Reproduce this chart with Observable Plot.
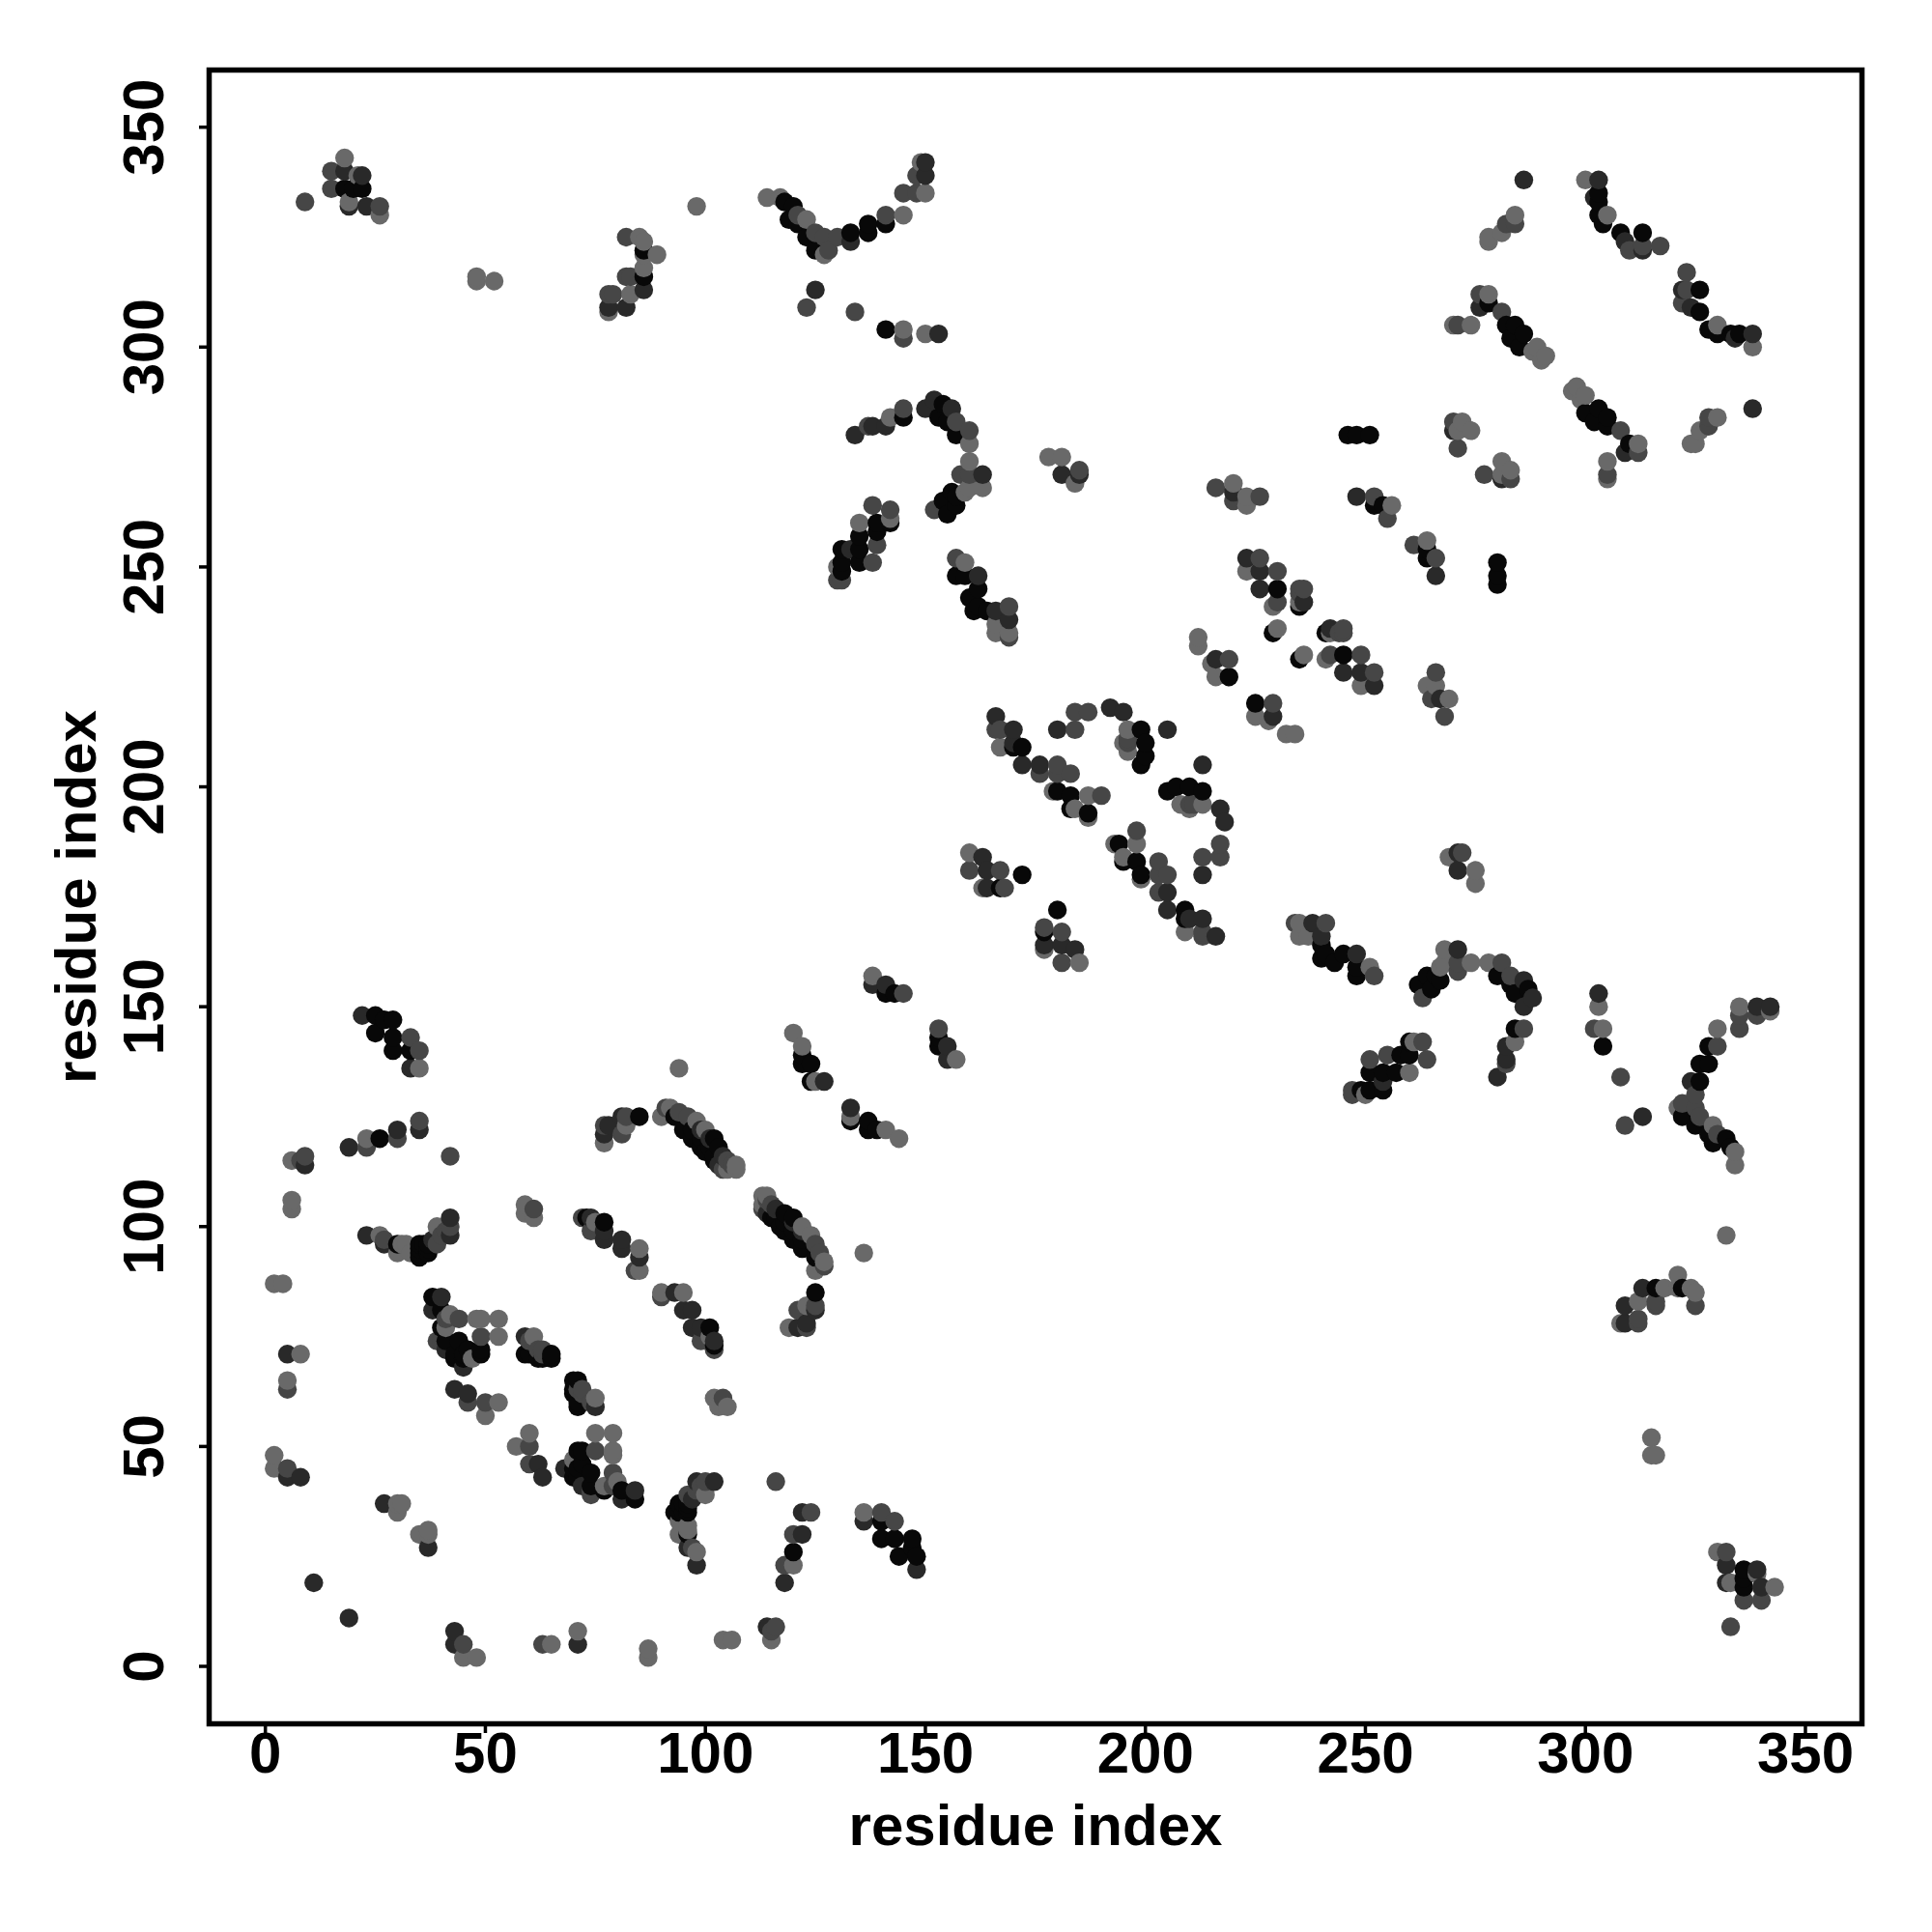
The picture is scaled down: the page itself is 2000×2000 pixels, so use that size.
<!DOCTYPE html>
<html><head><meta charset="utf-8">
<style>html,body{margin:0;padding:0;background:#fff}svg{display:block}</style>
<script src="https://cdn.jsdelivr.net/npm/d3@7"></script>
<script src="https://cdn.jsdelivr.net/npm/@observablehq/plot@0.6"></script>
</head><body><div id="chart"></div>
<script>
// contacts as [residue i, residue j, score], i < j; the map is symmetric
const tickValues = [0, 50, 100, 150, 200, 250, 300, 350];
const axisTitle = "residue index";
const farEnds = [[11,19,.65],[27,37,.65],[30,37,.1],[31,37,.1],[30,35,.1],[2,48,.1],[2,45,.1],[5,45,.4],[5,43,.65],[8,43,.65],[5,63,.4],[5,65,.1],[5,71,.65],[8,71,.1],[2,87,.1],[4,87,.1],[6,104,.1],[6,106,.1],[6,115,.1],[8,115,.4],[9,116,.4],[9,114,.65]];
const helixA = [[38,84,.93],[40,84,.65],[38,81,.65],[40,81,.93],[40,77,.93],[41,77,.1],[42,80,.1],[41,79,.4],[44,79,.4],[48,79,.1],[49,79,.1],[53,79,.1],[53,75,.1],[49,75,.4],[49,72,.93],[49,71,.93],[39,74,.4],[40,74,.4],[41,74,.93],[44,74,.93],[41,72,.65],[43,71,.93],[46,72,.93],[45,71,.93],[43,70,.93],[45,70,.93],[45,68,.65],[47,70,.1]];
const helixB = [[59,75,.65],[61,75,.1],[60,74,.4],[59,71,.93],[60,71,.93],[62,72,.4],[63,72,.4],[63,71,.4],[62,70,.93],[63,70,.93],[65,71,.93],[65,70,.93]];
const helixC = [[43,63,.65],[46,62,.65],[46,60,.4],[50,60,.4],[53,60,.1],[50,57,.1]];
const bandD = [[23,98,.65],[26,98,.1],[27,97,.4],[27,96,.65],[30,96,.93],[31,96,.1],[33,94,.1],[30,94,.1],[32,96,.1],[35,96,.93],[35,95,.93],[35,93,.93],[35,94,.93],[36,96,.93],[37,95,.93],[37,96,.93],[37,94,.93],[38,97,.65],[39,96,.4],[39,100,.1],[40,98,.4],[41,99,.4],[42,102,.65],[42,100,.4],[42,98,.65]];
const bandE = [[19,118,.65],[23,120,.1],[23,118,.4],[26,120,.93],[30,122,.65],[30,120,.4],[35,124,.4],[35,122,.65],[42,116,.4]];
const bandF = [[33,136,.65],[35,136,.1],[35,140,.4],[33,140,.93],[33,143,.4],[29,140,.93],[29,143,.93],[25,144,.93],[29,147,.93],[27,147,.93],[25,148,.93],[22,148,.65]];
const blockG = [[59,105,.1],[59,103,.1],[61,104,.4],[61,102,.1],[72,102,.4],[73,102,.93],[74,102,.65],[75,101,.1],[74,99,.4],[77,101,.93],[77,99,.65],[77,97,.65],[81,97,.65],[81,95,.65],[85,95,.1],[85,93,.65],[85,90,.1],[84,90,.4]];
const blockH = [[77,123,.4],[77,121,.65],[77,119,.1],[78,123,.65],[81,125,.65],[82,125,.4],[81,121,.4],[82,123,.1],[85,125,.93]];
const strandUpper = [[92,127,.1],[94,126,.4],[96,125,.4],[98,124,.1],[99,122,.65],[100,122,.1],[101,120,.65],[102,120,.93],[103,118,.93],[104,116,.65],[105,115,.4],[106,114,.4],[107,114,.1],[107,113,.1]];
const strandLower = [[90,125,.1],[91,127,.4],[93,125,.93],[95,122,.93],[97,122,.93],[97,120,.93],[99,120,.93],[99,118,.93],[101,118,.93],[100,117,.93],[102,116,.93],[102,115,.93],[103,114,.65],[104,113,.4],[105,113,.1]];
const midPairs = [[94,136,.1],[120,144,.1],[122,141,.1],[122,139,.93],[122,137,.93],[124,137,.93],[124,133,.93],[125,133,.1],[127,133,.65],[138,157,.1],[138,155,.65],[141,155,.65],[141,153,.93],[143,153,.93],[145,153,.4]];
const topLeft = [[9,333,.4],[18,343,.1],[15,340,.4],[18,340,.65],[21,339,.1],[22,339,.65],[15,336,.4],[18,336,.93],[20,336,.93],[22,336,.93],[19,333,.1],[19,332,.65],[23,332,.65],[26,332,.4],[26,330,.1],[48,316,.1],[48,315,.1],[52,315,.1]];
const topMiddle = [[82,325,.4],[85,325,.1],[86,324,.1],[89,321,.1],[86,322,.93],[86,321,.1],[86,318,.1],[86,316,.93],[82,316,.4],[83,316,.4],[86,313,.65],[83,312,.1],[79,312,.4],[78,312,.4],[78,309,.65],[78,308,.1],[82,309,.65],[98,332,.1]];
const topV = [[114,334,.1],[117,334,.1],[118,333,.93],[120,332,.93],[121,330,.4],[119,329,.93],[123,329,.1],[121,328,.93],[125,326,.4],[123,325,.93],[125,322,.93],[127,325,.4],[127,321,.1],[128,322,.4],[130,325,.4],[133,326,.93],[133,324,.65],[137,328,.93],[137,326,.93],[141,328,.93],[141,330,.4],[145,330,.1],[145,335,.4],[148,335,.4],[150,335,.1],[150,339,.65],[148,339,.4],[150,342,.65],[149,342,.1]];
const topSparse = [[125,313,.65],[123,309,.4],[134,308,.4],[141,304,.93],[145,304,.1],[145,302,.4],[150,303,.1],[153,303,.65]];
const archI = [[134,280,.65],[137,282,.4],[138,282,.65],[141,282,.65],[142,284,.1],[145,284,.93],[145,286,.4],[150,286,.65],[152,288,.65],[154,287,.93],[153,284,.93],[155,283,.93],[156,286,.65],[157,283,.4],[157,280,.93],[160,281,.4],[160,278,.1],[160,274,.1],[158,271,.4],[160,271,.4],[163,271,.65],[163,268,.1],[160,268,.1],[159,267,.1],[157,266,.93],[156,267,.93],[154,265,.93],[157,264,.93],[155,262,.93],[152,263,.4]];
const lumpJ = [[138,264,.4],[142,263,.4],[142,260,.93],[142,261,.1],[135,260,.1],[139,260,.93],[139,258,.93],[139,255,.4],[135,257,.93],[135,254,.93],[131,254,.93],[133,254,.65],[135,251,.93],[138,251,.4],[131,251,.93],[130,250,.1],[131,249,.93],[130,247,.4],[131,247,.4]];
const lumpK = [[157,252,.4],[159,251,.1],[157,248,.93],[159,248,.93],[162,248,.65],[162,245,.93],[160,243,.93],[162,241,.93],[161,240,.93],[166,240,.65],[164,240,.93],[169,241,.4],[166,237,.1],[169,238,.65],[166,235,.1],[169,235,.1],[169,234,.4]];
const lumpL = [[178,275,.1],[181,275,.1],[181,271,.65],[185,272,.4],[185,271,.65],[184,269,.1]];
const coreM = [[166,216,.65],[166,213,.4],[167,213,.4],[170,213,.65],[170,210,.65],[167,209,.1],[170,209,.93],[172,209,.93],[172,205,.65],[176,205,.65],[176,203,.4],[180,205,.4],[180,203,.4],[183,203,.4],[180,199,.93],[183,198,.93],[179,199,.1],[187,198,.1],[190,198,.4],[183,195,.93],[184,195,.1],[187,194,.93],[187,193,.1],[180,213,.65],[184,213,.4],[184,217,.4],[187,217,.4],[192,218,.65],[195,217,.65]];
const coreN = [[196,213,.1],[199,213,.93],[196,211,.4],[200,210,.93],[196,210,.4],[195,210,.1],[196,208,.1],[200,207,.93],[199,205,.93],[205,213,.65]];
const coreO = [[160,185,.1],[163,184,.65],[160,181,.4],[164,181,.65],[167,181,.4],[172,180,.93],[163,177,.1],[164,177,.65],[167,177,.93],[168,177,.4]];
const rightQ = [[212,234,.1],[212,232,.1],[216,229,.65],[219,229,.4],[215,228,.1],[216,225,.1],[219,225,.93]];
const rightR = [[223,252,.65],[226,252,.4],[223,249,.1],[226,249,.65],[230,249,.4],[226,245,.65],[230,245,.93],[235,245,.4],[236,245,.4],[235,244,.4],[236,242,.65],[235,241,.93],[235,242,.1],[230,242,.4],[229,241,.1],[230,236,.1],[229,235,.93]];
const rightS = [[216,268,.4],[220,269,.1],[220,267,.65],[220,265,.4],[223,266,.1],[223,264,.1],[226,266,.4]];
const rightT = [[248,266,.65],[252,266,.4],[252,264,.93],[254,264,.93],[256,264,.1],[255,261,.4],[246,280,.93],[248,280,.93],[251,280,.93]];
const cornerU = [[270,283,.4],[272,283,.1],[270,281,.65],[274,281,.1],[271,281,.1],[271,277,.4]];
const cornerV = [[276,312,.4],[278,312,.1],[276,309,.65],[278,310,.93],[281,308,.4],[282,305,.93],[284,305,.93],[286,303,.93],[283,302,.93],[285,300,.93],[289,300,.1],[291,298,.1],[290,297,.1],[288,299,.1],[271,305,.4],[270,305,.1],[274,305,.1]];
const cornerW = [[300,338,.1],[303,338,.65],[302,334,.65],[303,335,.93],[303,333,.93],[303,330,.93],[305,330,.1],[304,328,.93],[308,326,.93],[309,324,.65],[310,322,.4],[313,326,.93],[313,323,.4],[313,322,.65],[317,323,.4],[286,338,.65],[284,330,.1],[284,328,.4],[282,328,.4],[281,326,.1],[278,325,.1],[278,324,.1]];

const contacts = [farEnds, helixA, helixB, helixC, bandD, bandE, bandF, blockG, blockH, strandUpper, strandLower, midPairs, topLeft, topMiddle, topV, topSparse, archI, lumpJ, lumpK, lumpL, coreM, coreN, coreO, rightQ, rightR, rightS, rightT, cornerU, cornerV, cornerW].flat();
const table = d3.sort(contacts.flatMap(([i, j, score]) => [{x: i, y: j, score}, {x: j, y: i, score}]), d => d.x, d => d.y);

const font = {fontSize: 60, fontWeight: "bold", fontFamily: "Liberation Sans"};
const chart = Plot.plot({
  width: 2000, height: 2000,
  marginLeft: 216, marginRight: 73, marginTop: 72, marginBottom: 216,
  style: {background: "#fff", fontFamily: "Liberation Sans", overflow: "visible"},
  x: {domain: [-12.78, 362.85], label: null},
  y: {domain: [-13.07, 363], label: null},
  color: {type: "linear", domain: [0, 1], range: ["#757575", "#000000"]},
  marks: [
    Plot.dot(table, {x: "x", y: "y", fill: "score", r: 9.7, stroke: "none"}),
    Plot.frame({stroke: "#000", strokeWidth: 5.5}),
    Plot.axisX(tickValues, {...font, anchor: "bottom", tickSize: 10, tickPadding: -2, strokeWidth: 3.5, fill: "#000", stroke: "#000", label: null}),
    Plot.axisY(tickValues, {...font, anchor: "left", tickSize: 10, tickPadding: 38, strokeWidth: 3.5, tickRotate: -90, fill: "#000", stroke: "#000", label: null}),
    Plot.text([axisTitle], {...font, fill: "#000", frameAnchor: "bottom", dy: 125, text: d => d}),
    Plot.text([axisTitle], {...font, fill: "#000", frameAnchor: "left", textAnchor: "middle", dx: -137, rotate: -90, text: d => d})
  ]
});
document.getElementById("chart").append(chart);
</script></body></html>
